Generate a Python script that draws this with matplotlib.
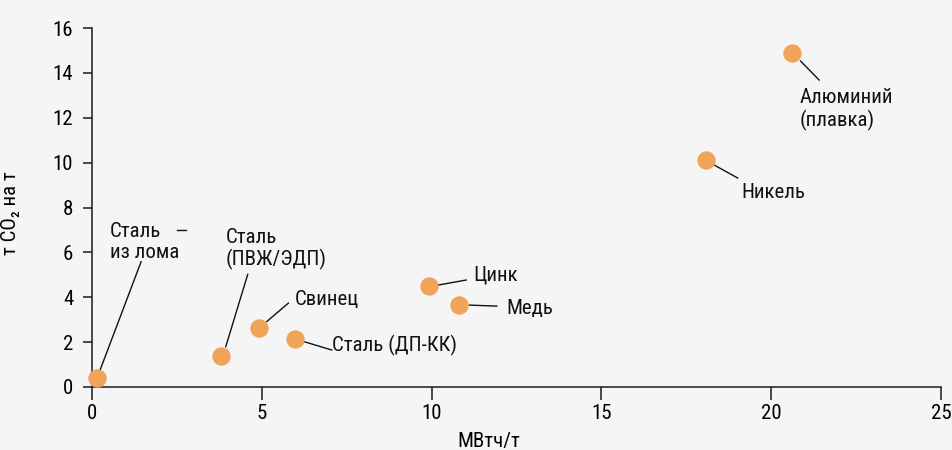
import matplotlib
matplotlib.use("Agg")
import matplotlib.pyplot as plt
import matplotlib.transforms as mtransforms
from matplotlib.lines import Line2D
from matplotlib import font_manager as fm

# ---- data ----
materials = ["Сталь\nиз лома", "Сталь\n(ПВЖ/ЭДП)", "Свинец", "Сталь (ДП-КК)",
             "Цинк", "Медь", "Никель", "Алюминий\n(плавка)"]
energy_mwh = [0.15, 3.8, 4.92, 5.97, 9.92, 10.82, 18.07, 20.6]
co2_t = [0.4, 1.38, 2.65, 2.14, 4.5, 3.65, 10.13, 14.87]
x_ticks = [0, 5, 10, 15, 20, 25]
y_ticks = [0, 2, 4, 6, 8, 10, 12, 14, 16]
x_label = "МВтч/т"
y_label = "т CO₂ на т"

# ---- layout (pixel offsets from each point; +y is up; first-line baseline) ----
text_off = [(13, 148), (4.7, 118.3), (36, 22.7), (37.6, -12.7),
            (44.6, 6), (46.7, -9), (35.7, -38.3), (8.3, -45)]
lead_start = [(3, 8), (4.7, 9.3), (7.7, 6), (9.3, -2.7),
              (9.6, 1), (10, 0), (8, -5), (9, -7.7)]
lead_end = [(44, 116.3), (26.7, 81.7), (29.3, 24.4), (37, -11),
            (37.3, 6), (37.4, -1), (32, -18.3), (27.6, -26.7)]
LINE_PX = 27.5

# ---- font choice: prefer a condensed sans ----
def is_condensed(f):
    st = f.stretch
    if isinstance(st, str):
        return "condensed" in st and "semi" not in st or "Condensed" in f.name or "Narrow" in f.name
    return st < 500 or "Condensed" in f.name or "Narrow" in f.name

pref = ["Roboto Condensed", "Open Sans Condensed", "Noto Sans", "Liberation Sans Narrow",
        "DejaVu Sans", "Open Sans", "Roboto"]
chosen = None
for p in pref:
    for f in fm.fontManager.ttflist:
        if f.name == p and is_condensed(f):
            chosen = (f.name, f.stretch)
            break
    if chosen:
        break
if chosen is None:
    for f in fm.fontManager.ttflist:
        if is_condensed(f):
            chosen = (f.name, f.stretch)
            break
if chosen is None:
    chosen = ("DejaVu Sans", "normal")
    FS = 13
else:
    FS = 15

plt.rcParams["font.family"] = [chosen[0], "DejaVu Sans"]
plt.rcParams["font.stretch"] = chosen[1]

BG = "#f5f5f5"
ORANGE = "#f0a45a"
INK = "#111111"

DPI = 100
fig = plt.figure(figsize=(9.53, 4.5), dpi=DPI, facecolor=BG)
ax = fig.add_axes([92 / 953, 1 - 387 / 450, (941 - 92) / 953, (387 - 28) / 450])
ax.set_facecolor(BG)

ax.scatter(energy_mwh, co2_t, s=175, color=ORANGE, zorder=3, clip_on=False, linewidths=0)

ax.set_xlim(0, 25)
ax.set_ylim(0, 16)
ax.set_xticks(x_ticks)
ax.set_yticks(y_ticks)
ax.set_xticklabels([str(t) for t in x_ticks], fontsize=FS)
ax.set_yticklabels([str(t) for t in y_ticks], fontsize=FS)
for s in ["top", "right"]:
    ax.spines[s].set_visible(False)
for s in ["left", "bottom"]:
    ax.spines[s].set_linewidth(1.1)
    ax.spines[s].set_color("#1a1a1a")
ax.tick_params(axis="x", length=9, width=1.1, pad=3, color="#1a1a1a")
ax.tick_params(axis="y", length=6.5, width=1.1, pad=7, color="#1a1a1a")

ax.set_xlabel(x_label, fontsize=FS)
ax.xaxis.set_label_coords((489 - 92) / 849, -0.125)
ax.set_ylabel(y_label, fontsize=FS)
ax.yaxis.set_label_coords(-(92 - 20) / 849, (387 - 213) / 359)

px = 72.0 / DPI
for i, name in enumerate(materials):
    x, y = energy_mwh[i], co2_t[i]
    tdx, tdy = text_off[i]
    nextra = name.count("\n")
    tdy -= nextra * LINE_PX
    tr = mtransforms.offset_copy(ax.transData, fig=fig, x=tdx * px, y=tdy * px, units="points")
    ax.text(x, y, name, transform=tr, fontsize=FS, ha="left", va="baseline",
            linespacing=1.12, color=INK)
    (sx, sy), (ex, ey) = lead_start[i], lead_end[i]
    base = ax.transData.transform((x, y))
    p0 = ax.transData.inverted().transform((base[0] + sx, base[1] + sy))
    p1 = ax.transData.inverted().transform((base[0] + ex, base[1] + ey))
    ax.add_line(Line2D([p0[0], p1[0]], [p0[1], p1[1]], color=INK, lw=1.0,
                       clip_on=False, zorder=2))

# stray short dash next to the first label
base = ax.transData.transform((energy_mwh[0], co2_t[0]))
d0 = ax.transData.inverted().transform((base[0] + 79.7, base[1] + 148))
d1 = ax.transData.inverted().transform((base[0] + 89, base[1] + 148))
ax.add_line(Line2D([d0[0], d1[0]], [d0[1], d1[1]], color=INK, lw=1.0, clip_on=False))

fig.savefig("out.png", dpi=DPI, facecolor=BG)
